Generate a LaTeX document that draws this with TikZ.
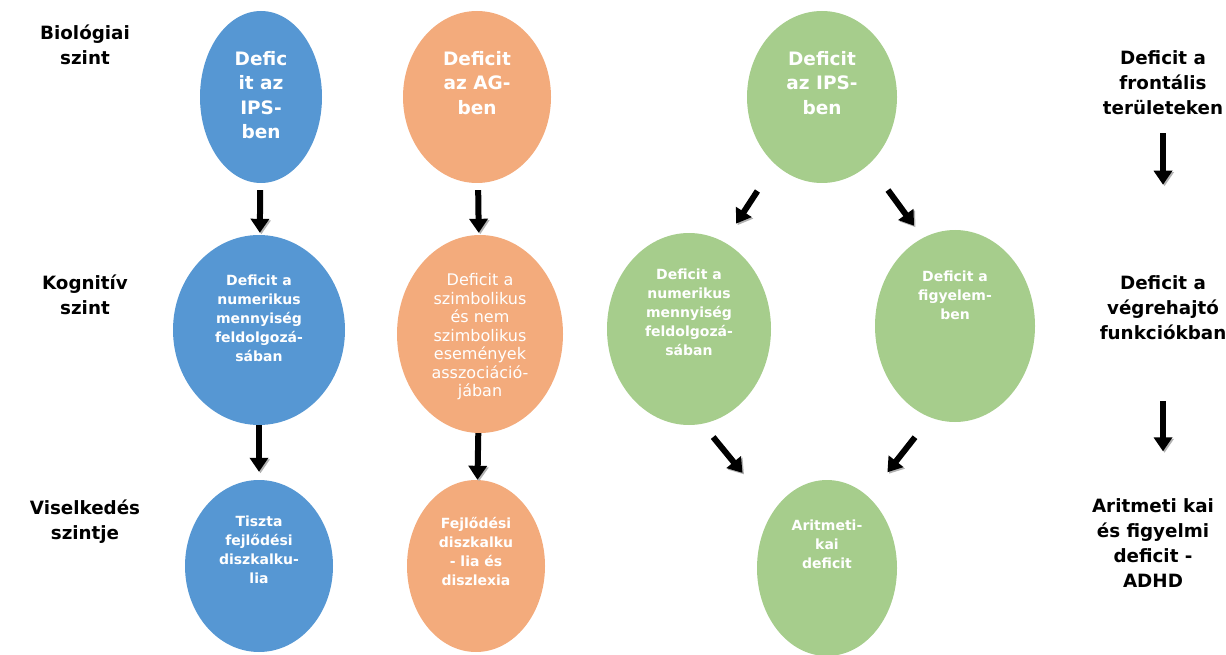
\documentclass[tikz,border=0pt]{standalone}
\usepackage{fontspec}
\setmainfont{DejaVu Sans}
\usetikzlibrary{shapes.geometric,arrows.meta,calc}
\definecolor{cblue}{RGB}{86,151,211}
\definecolor{corange}{RGB}{243,171,124}
\definecolor{cgreen}{RGB}{166,205,140}
\begin{document}
\begin{tikzpicture}[x=1pt,y=-1pt,
  ell/.style={ellipse, draw=none, inner sep=0pt},
  lvl/.style={font=\bfseries\fontsize{18.3}{25}\selectfont, align=center, text=black, inner sep=0pt},
  big/.style={font=\bfseries\fontsize{18.5}{24.5}\selectfont, align=center, text=white, inner sep=0pt},
  small/.style={font=\bfseries\fontsize{14}{19}\selectfont, align=center, text=white, inner sep=0pt},
  light/.style={font=\fontsize{16}{18.5}\selectfont, align=center, text=white, inner sep=0pt},
  arr/.style={line width=6pt, -{Triangle[width=18pt,length=14pt]},
    preaction={draw=black!30, transform canvas={shift={(1.5pt,-1.5pt)}}}}
]
\useasboundingbox (0,0) rectangle (1226,655);

% level labels on the left
\node[lvl] (l1) at (85,45)  {Biológiai\\szint};
\node[lvl] (l2) at (85,295) {Kognitív\\szint};
\node[lvl] (l3) at (85,522) {Viselkedés\\szintje};

% blue column
\node[ell, fill=cblue, minimum width=122pt, minimum height=172pt] (b1) at (261,97) {};
\node[ell, fill=cblue, minimum width=172pt, minimum height=190pt] (b2) at (259,330) {};
\node[ell, fill=cblue, minimum width=148pt, minimum height=172pt] (b3) at (259,566) {};
\node[big]   (b1t) at (261,95)  {Defic\\it az\\IPS-\\ben};
\node[small] (b2t) at (259,318) {Deficit a\\numerikus\\mennyiség\\feldolgozá-\\sában};
\node[small] (b3t) at (259,550) {Tiszta\\fejlődési\\diszkalku-\\lia};

% orange column
\node[ell, fill=corange, minimum width=148pt, minimum height=172pt] (o1) at (477,97) {};
\node[ell, fill=corange, minimum width=166pt, minimum height=198pt] (o2) at (480,334) {};
\node[ell, fill=corange, minimum width=138pt, minimum height=172pt] (o3) at (476,566) {};
\node[big]   (o1t) at (477,83)  {Deficit\\az AG-\\ben};
\node[light] (o2t) at (480,337) {Deficit a\\szimbolikus\\és nem\\szimbolikus\\események\\asszociáció-\\jában};
\node[small] (o3t) at (476,551) {Fejlődési\\diszkalku\\- lia és\\diszlexia};

% green diamond of ellipses
\node[ell, fill=cgreen, minimum width=150pt, minimum height=172pt] (g1)  at (822,97)  {};
\node[ell, fill=cgreen, minimum width=164pt, minimum height=192pt] (gml) at (689,329) {};
\node[ell, fill=cgreen, minimum width=160pt, minimum height=192pt] (gmr) at (955,326) {};
\node[ell, fill=cgreen, minimum width=140pt, minimum height=176pt] (gb)  at (827,568) {};
\node[big]   (g1t)  at (822,83)  {Deficit\\az IPS-\\ben};
\node[small] (gmlt) at (689,312) {Deficit a\\numerikus\\mennyiség\\feldolgozá-\\sában};
\node[small] (gmrt) at (955,295) {Deficit a\\figyelem-\\ben};
\node[small] (gbt)  at (827,544) {Aritmeti-\\kai\\deficit};

% right column
\node[lvl] (r1) at (1163,83)  {Deficit a\\frontális\\területeken};
\node[lvl] (r2) at (1163,308) {Deficit a\\végrehajtó\\funkciókban};
\node[lvl] (r3) at (1153,543) {Aritmeti kai\\és figyelmi\\deficit -\\ADHD};

% arrows
\draw[arr, shorten <=7pt, shorten >=2pt] (b1) -- (b2);
\draw[arr, shorten >=8pt] (b2) -- (b3);
\draw[arr, shorten <=7pt, shorten >=2pt] (o1) -- (o2);
\draw[arr] (o2) -- (o3);
\draw[arr, shorten <=32pt, shorten >=22pt] (g1.235) -- (gml.68);
\draw[arr, shorten <=32pt, shorten >=15pt] (g1.305) -- (gmr.110);
\draw[arr, shorten <=17pt, shorten >=49pt] (gml.278) -- (gb.133);
\draw[arr, shorten <=25pt, shorten >=31pt] (gmr.255) -- (gb.60);
\draw[arr, shorten <=18pt, shorten >=91pt] (r1) -- (r2);
\draw[arr, shorten <=61pt, shorten >=47pt] (r2) -- (r2 |- r3.north);
\end{tikzpicture}
\end{document}
